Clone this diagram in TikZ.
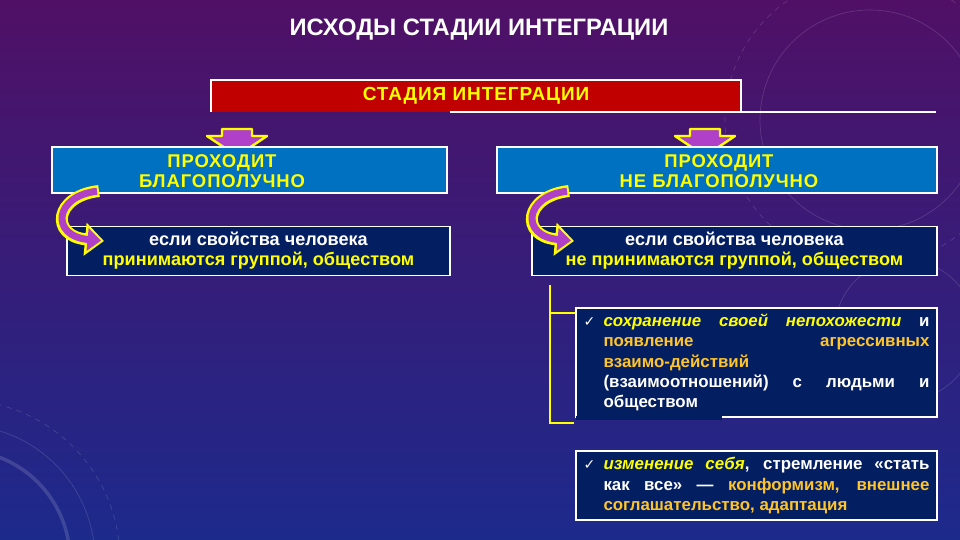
\documentclass[tikz,border=0pt]{standalone}
\usepackage{fontspec}
\setmainfont{Liberation Sans}
\newfontfamily\checkfont{DejaVu Sans}
\newfontfamily\capsfont[LetterSpace=5]{Liberation Sans}
\usetikzlibrary{arrows.meta}

\definecolor{bgtop}{RGB}{80,16,102}
\definecolor{bgmid}{RGB}{58,28,118}
\definecolor{bgbot}{RGB}{28,42,140}
\definecolor{stagered}{RGB}{192,0,0}
\definecolor{passblue}{RGB}{0,112,192}
\definecolor{condnavy}{RGB}{4,30,98}
\definecolor{txtyellow}{RGB}{255,255,0}
\definecolor{txtgold}{RGB}{255,196,40}
\definecolor{arrpurple}{RGB}{176,64,200}

\tikzset{
  boxrule/.style  = {draw=white, line width=1.1pt},
  stagebox/.style = {fill=stagered, minimum width=10.6cm, minimum height=0.64cm},
  passbox/.style  = {boxrule, fill=passblue, minimum height=0.92cm},
  condbox/.style  = {boxrule, fill=condnavy, minimum height=0.92cm, align=center,
                     font=\bfseries\fontsize{10.3}{11.4}\selectfont, text=white},
  listbox/.style  = {boxrule, fill=condnavy, minimum width=7.22cm, align=left,
                     font=\bfseries\fontsize{9.6}{11.6}\selectfont, text=white},
  headtext/.style = {align=center, text=txtyellow, font=\capsfont\bfseries\fontsize{10.5}{11.4}\selectfont},
  downarrow/.style= {draw=txtyellow, line width=1.4pt, fill=arrpurple, line join=round},
  bracket/.style  = {draw=txtyellow, line width=1.6pt}
}
\newcommand{\tick}{\makebox[0.4cm][l]{\checkfont\fontsize{8}{8}\selectfont ✓}}
\newcommand{\ind}{\hspace*{0.4cm}}

\begin{document}
\begin{tikzpicture}[x=0.02cm, y=-0.02cm]
  %--- background ---
  \shade[top color=bgtop, middle color=bgmid, bottom color=bgbot] (0,0) rectangle (960,540);
  \useasboundingbox (0,0) rectangle (960,540);
  \begin{scope}[white, opacity=0.14, line width=0.4pt]
    \draw (870,120) circle (110);
    \draw[dashed] (870,120) circle (145);
    \draw (905,330) circle (70);
    \draw[line width=2pt] (-40,560) circle (110);
    \draw (-40,560) circle (135);
    \draw[dashed] (-40,560) circle (160);
  \end{scope}

  %--- title ---
  \node[text=white, font=\bfseries\fontsize{13.5}{15}\selectfont] (title) at (479,30)
    {ИСХОДЫ СТАДИИ ИНТЕГРАЦИИ};

  %--- stage ---
  \node[stagebox, text=txtyellow, font=\capsfont\bfseries\fontsize{10.8}{12}\selectfont] (stage) at (476,96)
    {СТАДИЯ ИНТЕГРАЦИИ};
  \draw[boxrule] (stage.south west) -- (stage.north west) -- (stage.north east) -- (stage.south east);
  \draw[boxrule] (450,112) -- (936,112);

  %--- block arrows down ---
  \foreach \cx in {237,705}
    \draw[downarrow] (\cx-15,129) -- (\cx+15,129) -- (\cx+15,136) -- (\cx+30,136)
      -- (\cx,156) -- (\cx-30,136) -- (\cx-15,136) -- cycle;

  %--- two outcomes ---
  \node[passbox, minimum width=7.9cm] (ok) at (249.5,170) {};
  \node[passbox, minimum width=8.8cm] (notok) at (717,170) {};
  \node[headtext] (okText) at (222,171) {ПРОХОДИТ\\БЛАГОПОЛУЧНО};
  \node[headtext] (notokText) at (719,171) {ПРОХОДИТ\\НЕ БЛАГОПОЛУЧНО};

  %--- conditions ---
  \node[condbox, minimum width=7.66cm] (okCond) at (258.5,251)
    {если свойства человека\\\textcolor{txtyellow}{принимаются группой, обществом}};
  \node[condbox, minimum width=8.1cm] (notokCond) at (734.5,251)
    {если свойства человека\\\textcolor{txtyellow}{не принимаются группой, обществом}};

  %--- curved arrows ---
  \foreach \dx/\nm in {0/ok,470/notok} {
    \coordinate (\nm Start) at (99+\dx,191);
    \coordinate (\nm End) at (104+\dx,241);
    \draw[txtyellow, line width=0.24cm, -{Triangle[length=0.38cm,width=0.64cm]}]
      (\nm Start) .. controls (54+\dx,196) and (50+\dx,236) .. (\nm End);
    \draw[arrpurple, line width=0.14cm, shorten >=0.06cm, shorten <=0.04cm,
      -{Triangle[length=0.27cm,width=0.44cm]}]
      (\nm Start) .. controls (54+\dx,196) and (50+\dx,236) .. (\nm End);
  }

  %--- consequences ---
  \node[listbox, minimum height=2.14cm] (list1) at (756.5,362.5)
    {\tick\makebox[6.52cm][s]{\textcolor{txtyellow}{\itshape сохранение своей непохожести} и}\\
     \ind\makebox[6.52cm][s]{\color{txtgold}появление агрессивных}\\
     \ind{\color{txtgold}взаимо-действий}\\
     \ind\makebox[6.52cm][s]{(взаимоотношений) с людьми и}\\
     \ind обществом\hspace*{4.3cm}};
  \draw[condnavy, line width=2pt] ([xshift=0.6pt]list1.south west) -- ++(146,0);
  \node[listbox, minimum height=1.38cm] (list2) at (756.5,485.5)
    {\tick\makebox[6.52cm][s]{\textcolor{txtyellow}{\itshape изменение себя}, стремление «стать}\\
     \ind\makebox[6.52cm][s]{как все» — \textcolor{txtgold}{конформизм, внешнее}}\\
     \ind{\color{txtgold}соглашательство, адаптация}\hspace*{1.6cm}};

  %--- bracket ---
  \draw[bracket] (550,285) -- (550,423) -- (574,423);
  \draw[bracket] (550,313) -- (list1.west |- 0,313);
\end{tikzpicture}
\end{document}
